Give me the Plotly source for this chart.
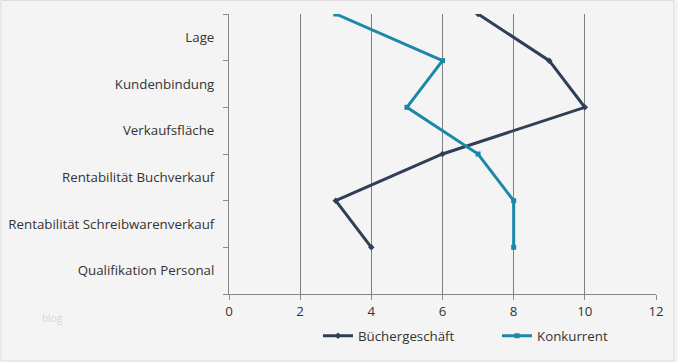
import plotly.graph_objects as go

categories = ["Lage", "Kundenbindung", "Verkaufsfläche", "Rentabilität Buchverkauf",
              "Rentabilität Schreibwarenverkauf", "Qualifikation Personal"]
buecher = [7, 9, 10, 6, 3, 4]
konkurrent = [3, 6, 5, 7, 8, 8]
x_ticks = [0, 2, 4, 6, 8, 10, 12]

pos = list(range(len(categories)))
label_pos = [p + 0.5 for p in pos]

fig = go.Figure()
fig.add_trace(go.Scatter(x=buecher, y=pos, mode="lines+markers", name="Büchergeschäft",
                         line=dict(color="#2f3f57", width=3), legend="legend",
                         marker=dict(size=5, symbol="diamond", color="#2f3f57")))
fig.add_trace(go.Scatter(x=konkurrent, y=pos, mode="lines+markers", name="Konkurrent",
                         line=dict(color="#1b88a8", width=3), legend="legend2",
                         marker=dict(size=5, symbol="square", color="#1b88a8")))

leg_common = dict(orientation="h", xanchor="left", y=-0.15, yanchor="middle",
                  bgcolor="rgba(0,0,0,0)", font=dict(size=13.3, color="#333333"),
                  itemwidth=30)

fig.update_layout(
    width=678, height=362,
    margin=dict(l=229, r=22, t=14, b=68, autoexpand=False),
    paper_bgcolor="#f4f4f4", plot_bgcolor="#f4f4f4",
    font=dict(family="Open Sans", size=13.3, color="#333333"),
    showlegend=True,
    legend=dict(x=(318 - 229) / 427, **leg_common),
    legend2=dict(x=(497 - 229) / 427, **leg_common),
    xaxis=dict(range=[0, 12], tickvals=x_ticks, showgrid=True, gridcolor="#808080", gridwidth=1,
               zeroline=False, showline=True, linecolor="#888888", linewidth=1,
               ticks="outside", ticklen=5, tickcolor="#888888", fixedrange=True,
               automargin=False),
    yaxis=dict(range=[6, 0], tickvals=label_pos, ticktext=categories, ticks="",
               showgrid=False, zeroline=False, showline=True, linecolor="#888888",
               ticklabelstandoff=11, fixedrange=True, automargin=False,
               minor=dict(tickvals=list(range(7)), ticks="outside", ticklen=5,
                          tickcolor="#888888", showgrid=False)),
    shapes=[dict(type="rect", xref="paper", yref="paper",
                 x0=-228/427, x1=(674-229)/427, y0=-67/280, y1=(294-0.5)/280,
                 line=dict(color="#dddddd", width=1), fillcolor="rgba(0,0,0,0)", layer="below")],
    annotations=[dict(text="blog", xref="paper", yref="paper", x=-(229-40)/427, y=-(318-294)/280,
                      xanchor="left", yanchor="middle",
                      showarrow=False, font=dict(size=10, color="#d4d4d4"))],
)

fig.write_html("out.html", config={"displayModeBar": False},
               post_script="document.body.style.margin='0px';")
